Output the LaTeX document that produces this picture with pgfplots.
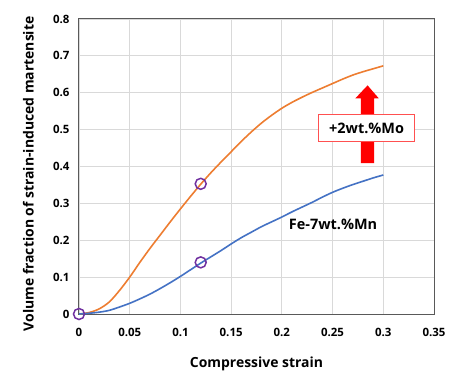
\documentclass[border=0pt]{standalone}
\usepackage{pgfplots}
\pgfplotsset{compat=1.18}
\usepackage{fontspec}
\setmainfont{Open Sans}
\usetikzlibrary{calc}
\definecolor{xlorange}{HTML}{ED7D31}
\definecolor{xlblue}{HTML}{4472C4}
\definecolor{xlpurple}{HTML}{7030A0}
\definecolor{gridgray}{HTML}{D9D9D9}
\definecolor{boxgray}{HTML}{595959}
\begin{document}
\begin{tikzpicture}
\begin{axis}[
  name=ax,
  scale only axis,
  width=355bp, height=295bp,
  xmin=0, xmax=0.35, ymin=0, ymax=0.8,
  xtick={0,0.05,...,0.35},
  ytick={0,0.1,...,0.8},
  xticklabels={0,0.05,0.1,0.15,0.2,0.25,0.3,0.35},
  yticklabels={0,0.1,0.2,0.3,0.4,0.5,0.6,0.7,0.8},
  major tick length=0pt,
  grid=major,
  major grid style={gridgray, line width=0.8bp},
  axis line style={boxgray, line width=1bp},
  tick label style={font=\fontsize{11.5}{13}\selectfont\bfseries},
  /pgf/number format/assume math mode=true,
  yticklabel style={xshift=-6bp},
  xticklabel style={yshift=-11bp},
  xlabel={Compressive strain},
  ylabel={Volume fraction of strain-induced martensite},
  label style={font=\fontsize{14}{16}\selectfont\bfseries},
  xlabel style={at={(axis description cs:0.5,-0.17)}, anchor=center},
  ylabel style={at={(axis description cs:-0.143,0.475)}, anchor=center},
  clip=false,
]
\addplot[xlorange, line width=1.6bp, smooth] coordinates {
(0,0) (0.01,0.004) (0.02,0.014) (0.03,0.033) (0.04,0.064) (0.05,0.1)
(0.06,0.14) (0.07,0.178) (0.08,0.214) (0.09,0.25) (0.10,0.285)
(0.11,0.319) (0.12,0.352) (0.13,0.383) (0.14,0.412) (0.15,0.44)
(0.16,0.468) (0.17,0.494) (0.18,0.518) (0.19,0.539) (0.20,0.558)
(0.21,0.574) (0.22,0.588) (0.23,0.601) (0.24,0.613) (0.25,0.625)
(0.26,0.637) (0.27,0.648) (0.28,0.657) (0.29,0.665) (0.30,0.673)
};
\addplot[xlblue, line width=1.6bp, smooth] coordinates {
(0,0) (0.01,0.002) (0.02,0.005) (0.03,0.01) (0.04,0.019) (0.05,0.029)
(0.06,0.041) (0.07,0.054) (0.08,0.069) (0.09,0.085) (0.10,0.102)
(0.11,0.12) (0.12,0.138) (0.13,0.155) (0.14,0.172) (0.15,0.19)
(0.16,0.207) (0.17,0.222) (0.18,0.237) (0.19,0.25) (0.20,0.263)
(0.21,0.277) (0.22,0.29) (0.23,0.303) (0.24,0.317) (0.25,0.33)
(0.26,0.341) (0.27,0.351) (0.28,0.36) (0.29,0.369) (0.30,0.377)
};
\addplot[only marks, mark=o, mark size=5.5bp, xlpurple, mark options={line width=1.5bp}] coordinates {
(0,0) (0.12,0.14) (0.12,0.353)
};
% red arrow
\fill[red] (axis cs:0.278,0.409) -- (axis cs:0.291,0.409) -- (axis cs:0.291,0.585)
  -- (axis cs:0.2955,0.585) -- (axis cs:0.2845,0.62) -- (axis cs:0.2725,0.585)
  -- (axis cs:0.278,0.585) -- cycle;
\node[draw={rgb,255:red,255;green,80;blue,80}, line width=1bp, fill=white,
  minimum width=96bp, minimum height=27bp, inner sep=0pt,
  font=\fontsize{14.5}{16}\selectfont\bfseries]
  at (axis cs:0.2835,0.5035) {+2wt.\%Mo};
\node[font=\fontsize{14.5}{16}\selectfont\bfseries] at (axis cs:0.2505,0.244) {Fe-7wt.\%Mn};
\end{axis}
\useasboundingbox ($(ax.south west)+(-79bp,-67bp)$) rectangle ($(ax.north east)+(26bp,19bp)$);
\end{tikzpicture}
\end{document}
